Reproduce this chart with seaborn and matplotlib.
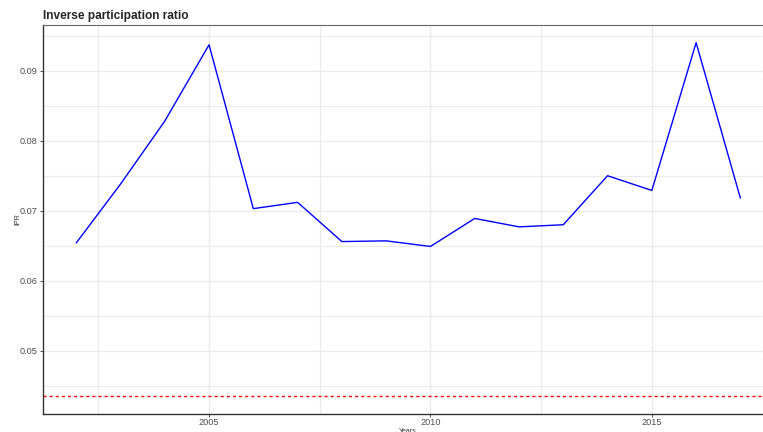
import numpy as np
import pandas as pd
import seaborn as sns
import matplotlib.pyplot as plt
from matplotlib.ticker import MultipleLocator

# Data
years = [2002, 2003, 2004, 2005, 2006, 2007, 2008, 2009, 2010,
         2011, 2012, 2013, 2014, 2015, 2016, 2017]
ipr = [0.0654, 0.0738, 0.0828, 0.0937, 0.0703, 0.0712, 0.0656, 0.0657, 0.0649,
       0.0689, 0.0677, 0.0680, 0.0750, 0.0729, 0.0940, 0.0718]
threshold = 0.0435

df = pd.DataFrame({'Years': years, 'IPR': ipr})

sns.set_theme(style='white')
plt.rcParams['font.family'] = ['Liberation Sans', 'DejaVu Sans']

fig = plt.figure(figsize=(7.63, 4.32), dpi=100)
# panel runs past the right edge like the cropped original
ax = fig.add_axes([43 / 763, 1 - 414 / 432, 730.6 / 763, 389 / 432])

sns.lineplot(data=df, x='Years', y='IPR', color='blue', linewidth=1.0, ax=ax)
ax.axhline(threshold, color='red', linestyle=(0, (2.2, 2.2)), linewidth=1.0)

# ggplot-style expansion
span_y = max(ipr) - threshold
ax.set_xlim(2002 - 0.05 * 15, 2017 + 0.05 * 15)
ax.set_ylim(threshold - 0.05 * span_y, max(ipr) + 0.05 * span_y)

ax.xaxis.set_major_locator(MultipleLocator(5))
ax.xaxis.set_minor_locator(MultipleLocator(2.5))
ax.yaxis.set_major_locator(MultipleLocator(0.01))
ax.yaxis.set_minor_locator(MultipleLocator(0.005))
ax.grid(which='major', color='#EBEBEB', linewidth=1.0)
ax.grid(which='minor', color='#EBEBEB', linewidth=0.8)
ax.set_axisbelow(True)

ax.tick_params(axis='both', which='major', labelsize=6.6, labelcolor='#4D4D4D',
               length=2.5, width=0.6, color='#333333', bottom=True, left=True)
ax.tick_params(axis='x', which='major', pad=0.5)
ax.tick_params(axis='y', which='major', pad=1.5)
ax.tick_params(which='minor', length=0)
ax.yaxis.set_major_formatter(plt.FuncFormatter(lambda v, p: f'{v:.2f}'))

for side in ['left', 'bottom']:
    ax.spines[side].set_color('#333333')
    ax.spines[side].set_linewidth(1.0)
ax.spines['top'].set_color('#666666')
ax.spines['top'].set_linewidth(0.8)
ax.spines['right'].set_visible(False)

ax.set_xlabel('Years', fontsize=5, color='#333333')
ax.set_ylabel('IPR', fontsize=5, color='#333333')
ax.xaxis.set_label_coords((408 - 43) / 730.6, -14 / 389)
ax.yaxis.set_label_coords(-22 / 730.6, 0.5)

fig.text(43 / 763, 1 - 19 / 432, 'Inverse participation ratio',
         fontsize=8.6, fontweight='bold', va='baseline', ha='left')

fig.savefig('out.png', dpi=100)
